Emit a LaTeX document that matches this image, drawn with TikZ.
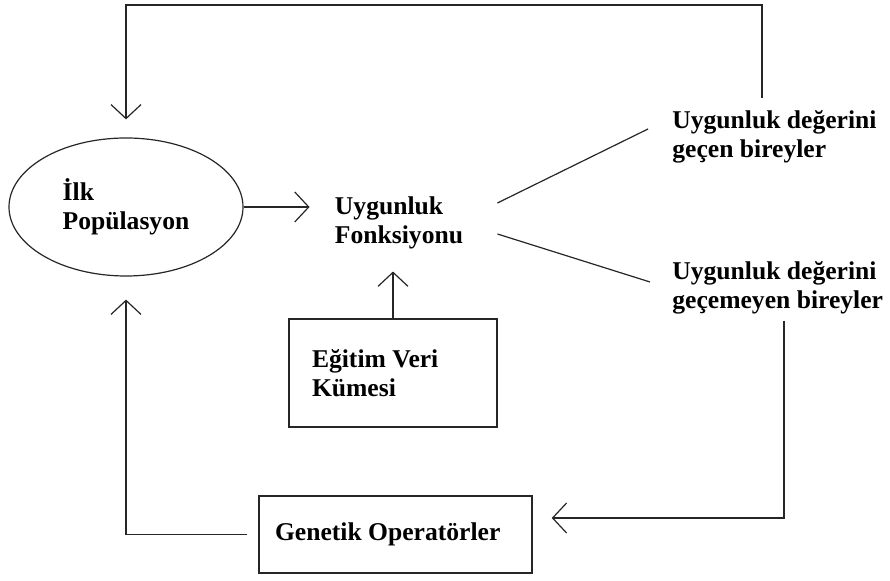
\documentclass[tikz,border=0pt]{standalone}
\usepackage{fontspec}
\setmainfont{Liberation Serif}
\usepackage{tikz}
\usetikzlibrary{arrows.meta,positioning,shapes.geometric}
\tikzset{
  defaultnode/.style={font=\fontsize{12.8}{14.5}\selectfont\bfseries, align=flush left, inner sep=0pt},
  ellipsenode/.style={defaultnode, ellipse, draw=black!85, line width=0.6pt,
    minimum width=117pt, minimum height=69pt},
  boxnode/.style={defaultnode, rectangle, draw=black!85, line width=0.75pt},
  normaledge/.style={-{Straight Barb[length=7pt,width=15pt]}, draw=black!85, line width=0.6pt},
  plainedge/.style={draw=black!85, line width=0.6pt},
}

\begin{document}
\begin{tikzpicture}[x=0.5pt, y=-0.5pt]
  \useasboundingbox (0,0) rectangle (890,581);
  \node[ellipsenode] (ilk) at (126,207) {İlk\\Popülasyon};
  \node[defaultnode, inner xsep=12.5pt, inner ysep=11pt] (fonk) at (399,223) {Uygunluk\\Fonksiyonu};
  \node[defaultnode, anchor=west] (gecen) at (672,137) {Uygunluk değerini\\geçen bireyler};
  \node[defaultnode, anchor=west] (gecemeyen) at (672,288) {Uygunluk değerini\\geçemeyen bireyler};
  \node[boxnode, text width=81pt, inner xsep=11.5pt, minimum height=54pt] (egitim) at (393,373) {Eğitim Veri\\Kümesi};
  \node[boxnode, text width=120.5pt, inner xsep=8pt, minimum height=38.5pt] (genetik) at (395.5,534.5) {Genetik Operatörler};
  \coordinate (ust) at (762,5);
  \coordinate (donus) at (784,518);
  % main flow
  \draw[normaledge] (ilk.east) -- (ilk.east -| fonk.west);
  \draw[normaledge] (egitim.north) -- (egitim.north |- fonk.south);
  \draw[plainedge] ([xshift=4.5pt, yshift=10pt]fonk.east) -- ([xshift=-12pt, yshift=4pt]gecen.west);
  \draw[plainedge] ([xshift=4.5pt, yshift=-5.5pt]fonk.east) -- ([xshift=-11pt, yshift=3pt]gecemeyen.west);
  % loops back
  \draw[normaledge, shorten <=6pt, shorten >=9pt] (gecen.north -| ust) -- (ust) -| (ilk.north);
  \draw[normaledge, shorten <=3pt, shorten >=9.5pt] (gecemeyen.south -| donus) -- (donus) -- (donus -| genetik.east);
  \draw[normaledge, shorten <=5.5pt, shorten >=11.5pt] (genetik.west) -| (ilk.south);
\end{tikzpicture}
\end{document}
